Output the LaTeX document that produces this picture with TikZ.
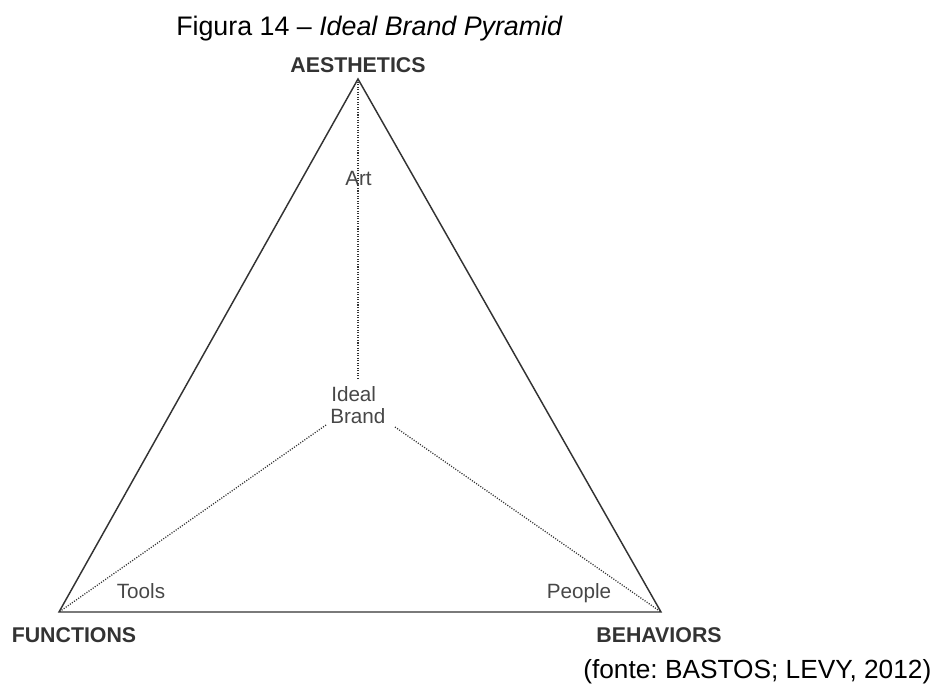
\documentclass[tikz,border=0pt]{standalone}
\usepackage{fontspec}
\setmainfont{Liberation Sans}
\frenchspacing
\begin{document}
\begin{tikzpicture}[x=0.75pt,y=-0.75pt,
  edge/.style={draw=black!80, line width=1.1pt, line join=miter},
  dotline/.style={draw=black!80, line width=0.95pt, dash pattern=on 0.8pt off 1.1pt},
  corner/.style={font=\fontsize{16}{18}\selectfont\bfseries, text=black!80, inner sep=0pt, anchor=base},
  inlabel/.style={font=\fontsize{15.5}{17}\selectfont, text=black!72, inner sep=0pt, anchor=base},
  caption/.style={font=\fontsize{19.7}{22}\selectfont, text=black, inner sep=0pt, anchor=base west}]
  \useasboundingbox (0,0) rectangle (937,686);

  % vertices of the pyramid
  \coordinate (top) at (358,79);
  \coordinate (left) at (59,612);
  \coordinate (right) at (661,612);

  % inner dotted spokes end just short of the central label
  \coordinate (spokeTop) at (358,378);
  \coordinate (spokeLeft) at (326,425);
  \coordinate (spokeRight) at (395,427);

  % title and source
  \node[caption, font=\fontsize{20.1}{23}\selectfont] (title) at (176,35) {Figura 14 – \textit{Ideal Brand Pyramid}};
  \node[caption] (source) at (583,678) {(fonte: BASTOS; LEVY, 2012)};

  % corner labels
  \node[corner] (aes) at (358,72) {AESTHETICS};
  \node[corner] (fun) at (74,642) {FUNCTIONS};
  \node[corner] (beh) at (659,642) {BEHAVIORS};

  % inner labels
  \node[inlabel] (art) at (358.5,185) {Art};
  \node[inlabel, anchor=base west] (ideal) at (331,401) {Ideal};
  \node[inlabel, anchor=base west] (brand) at (330,423) {Brand};
  \node[inlabel] (tools) at (141,598) {Tools};
  \node[inlabel] (people) at (579,598) {People};

  % outline
  \draw[edge] (top) -- (left) -- (right) -- cycle;

  % dotted spokes
  \draw[dotline] (top) -- (spokeTop);
  \draw[dotline] (spokeLeft) -- (left);
  \draw[dotline] (spokeRight) -- (right);
\end{tikzpicture}
\end{document}
